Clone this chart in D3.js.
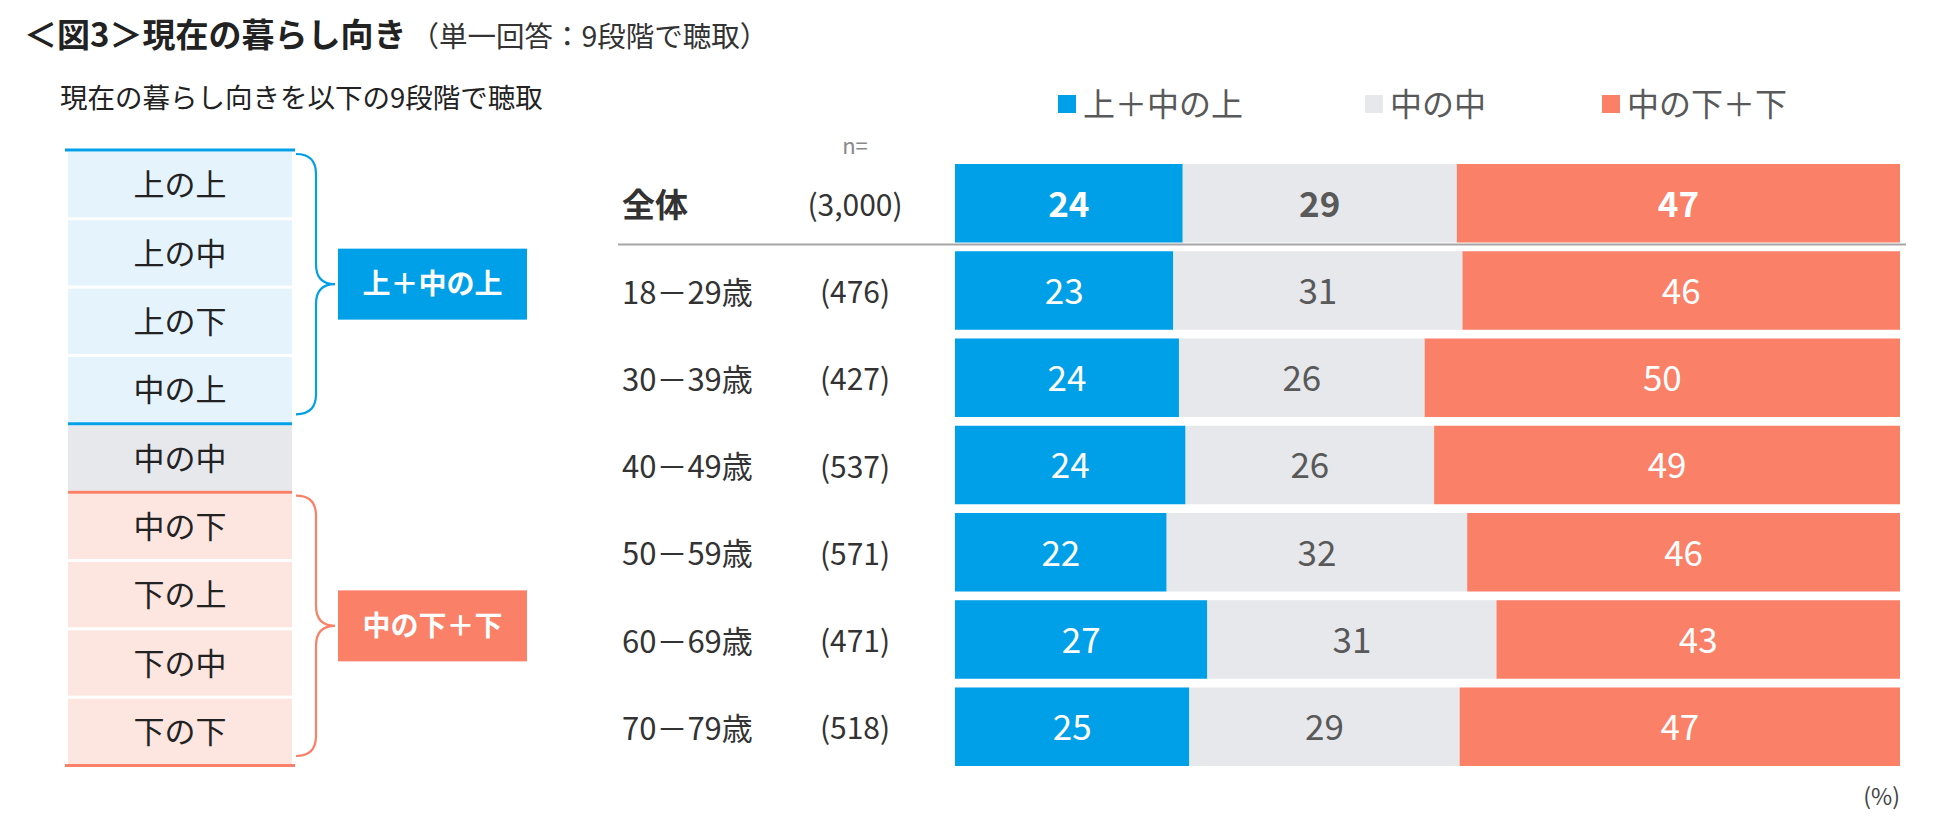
<!DOCTYPE html>
<html><head><meta charset="utf-8">
<script src="https://cdn.jsdelivr.net/npm/d3@7"></script>
<style>
html,body{margin:0;padding:0;background:#fff;}
svg{display:block;font-family:"Noto Sans CJK JP","Noto Sans",sans-serif;}
</style></head>
<body>
<script>
// ---- data ----
const rowLabels = ["全体", "18－29歳", "30－39歳", "40－49歳", "50－59歳", "60－69歳", "70－79歳"];
const nLabels = ["(3,000)", "(476)", "(427)", "(537)", "(571)", "(471)", "(518)"];
const seriesNames = ["上＋中の上", "中の中", "中の下＋下"];
const upper = [24.1, 23.1, 23.7, 24.4, 22.4, 26.7, 24.8];
const middle = [29.0, 30.6, 26.0, 26.3, 31.8, 30.6, 28.6];
const lower = [46.9, 46.3, 50.3, 49.3, 45.8, 42.7, 46.6];
const upperLabels = [24, 23, 24, 24, 22, 27, 25];
const middleLabels = [29, 31, 26, 26, 32, 31, 29];
const lowerLabels = [47, 46, 50, 49, 46, 43, 47];
const levels = ["上の上", "上の中", "上の下", "中の上", "中の中", "中の下", "下の上", "下の中", "下の下"];
const levelGroup = [0, 0, 0, 0, 1, 2, 2, 2, 2];
const groupNames = ["上＋中の上", "中の中", "中の下＋下"];

const colors = ["#00A0E9", "#E6E8EC", "#FA8068"];
const lightColors = ["#E5F3FC", "#E6E8EC", "#FDE5E0"];
const labelColors = ["#ffffff", "#595959", "#ffffff"];

const W = 1950, H = 831;
const svg = d3.select("body").append("svg").attr("width", W).attr("height", H);
svg.append("rect").attr("width", W).attr("height", H).attr("fill", "#fff");

// titles
const t = svg.append("text").attr("x", 24).attr("y", 47).attr("fill", "#222");
t.append("tspan").attr("font-size", 33).attr("font-weight", "bold").text("＜図3＞現在の暮らし向き");
t.append("tspan").attr("font-size", 28.5).attr("fill", "#333").attr("dx", 4).text("（単一回答：9段階で聴取）");
svg.append("text").attr("x", 60).attr("y", 108).attr("font-size", 27.5).attr("fill", "#222")
  .text("現在の暮らし向きを以下の9段階で聴取");

// ---- left scale boxes ----
const ly = d3.scaleBand().domain(levels).range([152, 764]).paddingInner(0.045);
const boxX0 = 68, boxX1 = 292;
svg.append("g").selectAll("rect").data(levels).join("rect")
  .attr("x", boxX0).attr("width", boxX1 - boxX0)
  .attr("y", d => ly(d)).attr("height", ly.bandwidth())
  .attr("fill", (d, i) => lightColors[levelGroup[i]]);
svg.append("g").selectAll("text").data(levels).join("text")
  .attr("x", (boxX0 + boxX1) / 2).attr("y", d => ly(d) + ly.bandwidth() / 2)
  .attr("dy", "0.38em").attr("text-anchor", "middle").attr("font-size", 31).attr("fill", "#222")
  .text(d => d);

// separator lines
const lines = [
  {y: ly(levels[0]) - 2, c: colors[0], x0: 65, x1: 295},
  {y: ly(levels[4]) - 1.5, c: colors[0], x0: boxX0, x1: boxX1},
  {y: ly(levels[5]) - 1.5, c: colors[2], x0: boxX0, x1: boxX1},
  {y: ly(levels[8]) + ly.bandwidth() + 1.5, c: colors[2], x0: 65, x1: 295}
];
svg.append("g").selectAll("line").data(lines).join("line")
  .attr("x1", d => d.x0).attr("x2", d => d.x1).attr("y1", d => d.y).attr("y2", d => d.y)
  .attr("stroke", d => d.c).attr("stroke-width", 3);

// braces + group boxes
[0, 2].forEach(g => {
  const idx = levels.map((d, i) => i).filter(i => levelGroup[i] === g);
  const top = ly(levels[idx[0]]) + 2;
  const bot = ly(levels[idx[idx.length - 1]]) + ly.bandwidth() - 8;
  const mid = (ly(levels[idx[0]]) + ly(levels[idx[idx.length - 1]]) + ly.bandwidth()) / 2 - 3;
  const xa = 296, xv = 316, xt = 335, r = 20;
  const p = d3.path();
  p.moveTo(xa, top);
  p.quadraticCurveTo(xv, top, xv, top + r);
  p.lineTo(xv, mid - r);
  p.quadraticCurveTo(xv, mid, xt, mid);
  p.quadraticCurveTo(xv, mid, xv, mid + r);
  p.lineTo(xv, bot - r);
  p.quadraticCurveTo(xv, bot, xa, bot);
  svg.append("path").attr("d", p.toString()).attr("fill", "none")
    .attr("stroke", colors[g]).attr("stroke-width", 2.2);
  svg.append("rect").attr("x", 338).attr("y", mid - 35.5).attr("width", 189).attr("height", 71)
    .attr("fill", colors[g]);
  svg.append("text").attr("x", 338 + 94.5).attr("y", mid).attr("dy", "0.36em")
    .attr("text-anchor", "middle").attr("font-size", 28).attr("font-weight", "bold")
    .attr("fill", "#fff").text(groupNames[g]);
});

// ---- stacked bar chart ----
const x = d3.scaleLinear().domain([0, 100]).range([955, 1900]);
const y = d3.scaleBand().domain(rowLabels).range([164, 766]).paddingInner(0.1);

const table = rowLabels.map((r, i) => ({row: r, s0: upper[i], s1: middle[i], s2: lower[i],
  l0: upperLabels[i], l1: middleLabels[i], l2: lowerLabels[i]}));
const stack = d3.stack().keys(["s0", "s1", "s2"]).offset(d3.stackOffsetExpand)(table);

const gBars = svg.append("g");
stack.forEach((layer, k) => {
  const g = gBars.append("g");
  g.selectAll("rect").data(layer).join("rect")
    .attr("x", d => x(d[0] * 100)).attr("width", d => x(d[1] * 100) - x(d[0] * 100))
    .attr("y", d => y(d.data.row)).attr("height", y.bandwidth())
    .attr("fill", colors[k]);
  g.selectAll("text").data(layer).join("text")
    .attr("x", d => (x(d[0] * 100) + x(d[1] * 100)) / 2)
    .attr("y", d => y(d.data.row) + y.bandwidth() / 2).attr("dy", "0.38em")
    .attr("text-anchor", "middle").attr("font-size", 35)
    .attr("font-weight", (d, i) => i === 0 ? "bold" : "normal")
    .attr("fill", labelColors[k])
    .text(d => d.data["l" + k]);
});

// row labels
svg.append("g").selectAll("text").data(rowLabels).join("text")
  .attr("x", 622).attr("y", d => y(d) + y.bandwidth() / 2).attr("dy", "0.42em")
  .attr("font-size", (d, i) => i === 0 ? 33 : 31).attr("font-weight", (d, i) => i === 0 ? "bold" : "normal")
  .attr("fill", "#333").text(d => d);
svg.append("g").selectAll("text").data(nLabels).join("text")
  .attr("x", 855).attr("y", (d, i) => y(rowLabels[i]) + y.bandwidth() / 2).attr("dy", "0.42em")
  .attr("text-anchor", "middle").attr("font-size", 30).attr("fill", "#333").text(d => d);
svg.append("text").attr("x", 855).attr("y", 146).attr("dy", "0.36em").attr("text-anchor", "middle")
  .attr("font-size", 22).attr("fill", "#888").text("n=");

// separator under total
const sepY = y(rowLabels[0]) + y.bandwidth() + 2;
svg.append("line").attr("x1", 618).attr("x2", 1906).attr("y1", sepY).attr("y2", sepY)
  .attr("stroke", "#A6A6A6").attr("stroke-width", 2);

// legend
const legendX = [1058, 1365, 1602];
const lg = svg.append("g").selectAll("g").data(seriesNames).join("g")
  .attr("transform", (d, i) => `translate(${legendX[i]},104)`);
lg.append("rect").attr("x", 0).attr("y", -9).attr("width", 18).attr("height", 18)
  .attr("fill", (d, i) => colors[i]);
lg.append("text").attr("x", 25).attr("dy", "0.36em").attr("font-size", 32).attr("fill", "#595959")
  .text(d => d);

svg.append("text").attr("x", 1900).attr("y", 797).attr("dy", "0.36em").attr("text-anchor", "end")
  .attr("font-size", 23).attr("fill", "#444").text("(%)");
</script>
</body></html>
